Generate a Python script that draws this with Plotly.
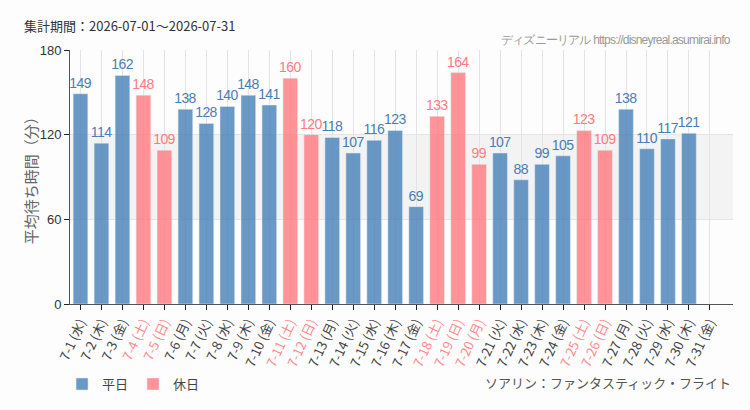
import plotly.graph_objects as go

dates = [f"7-{d}" for d in range(1, 32)]
weekdays = ["水","木","金","土","日","月","火","水","木","金","土","日","月","火","水","木","金",
            "土","日","月","火","水","木","金","土","日","月","火","水","木","金"]
values = [149,114,162,148,109,138,128,140,148,141,160,120,118,107,116,123,69,
          133,164,99,107,88,99,105,123,109,138,110,117,121,None]
holiday = [False,False,False,True,True,False,False,False,False,False,True,True,False,False,False,False,False,
           True,True,True,False,False,False,False,True,True,False,False,False,False,False]

BLUE = "rgba(70,127,184,0.8)"
PINK = "rgba(255,120,125,0.8)"
BLUE_T = "#4a7db3"
PINK_T = "#ff7b80"
COND = "Noto Sans Condensed, Liberation Sans"


def cond(s, ls=-0.6):
    return f'<span style="font-stretch:condensed;letter-spacing:{ls}px">{s}</span>'


wd_vals = [v if not h else None for v, h in zip(values, holiday)]
ho_vals = [v if h else None for v, h in zip(values, holiday)]

ticktext = []
for d, w, h in zip(dates, weekdays, holiday):
    col = "#ff8a8e" if h else "#444444"
    ticktext.append(f'<span style="color:{col}">{d} ({w})</span>')

fig = go.Figure()
fig.add_trace(go.Bar(x=dates, y=wd_vals, name="平日", marker_color=BLUE, width=0.7,
                     text=[cond(v) if v is not None else "" for v in wd_vals],
                     textposition="outside", cliponaxis=False, constraintext="none",
                     textfont=dict(color=BLUE_T, size=14, family=COND)))
fig.add_trace(go.Bar(x=dates, y=ho_vals, name="休日", marker_color=PINK, width=0.7,
                     text=[cond(v) if v is not None else "" for v in ho_vals],
                     textposition="outside", cliponaxis=False, constraintext="none",
                     textfont=dict(color=PINK_T, size=14, family=COND)))

fig.add_shape(type="rect", xref="paper", yref="y", x0=0, x1=1, y0=60, y1=120,
              fillcolor="#f2f3f2", line_width=0, layer="below")

fig.update_layout(
    width=750, height=410,
    margin=dict(l=70, r=17, t=50, b=105),
    paper_bgcolor="#fcfdfc", plot_bgcolor="#fcfdfc",
    barmode="overlay",
    font=dict(family="Noto Sans CJK JP", color="#444444"),
    showlegend=True,
    legend=dict(orientation="h", x=-0.012, y=-0.31, xanchor="left", yanchor="middle",
                font=dict(size=13, color="#444444"), bgcolor="rgba(0,0,0,0)"),
    xaxis=dict(tickmode="array", tickvals=dates, ticktext=ticktext, tickangle=-65,
               automargin=False,
               showgrid=True, gridcolor="#e4e4e4", showline=True, linecolor="#555555",
               ticks="outside", ticklen=5, tickcolor="#222222",
               tickfont=dict(size=13, family="Noto Sans CJK JP"),
               range=[-0.5, 31.1]),
    yaxis=dict(range=[0, 180], tickvals=[0, 60, 120, 180], showgrid=True, gridcolor="#e4e4e4",
               showline=True, linecolor="#555555", ticks="outside", ticklen=5, tickcolor="#222222",
               zeroline=False, automargin=False,
               tickfont=dict(size=13, family="Liberation Sans", color="#333333")),
)

fig.add_annotation(text="平均待ち時間（分）", xref="paper", yref="paper",
                   x=-0.06, y=0.5, xanchor="center", yanchor="middle", textangle=-90,
                   showarrow=False, font=dict(size=15, color="#666666"))
fig.add_annotation(text="集計期間：2026-07-01〜2026-07-31", xref="paper", yref="paper",
                   x=-0.072, y=1.098, xanchor="left", yanchor="middle", showarrow=False,
                   font=dict(size=13, color="#333333"))
fig.add_annotation(text=cond("ディズニーリアル https://disneyreal.asumirai.info", -0.8), xref="paper", yref="paper",
                   x=1.0, y=1.039, xanchor="right", yanchor="middle", showarrow=False,
                   font=dict(size=12, color="#999999", family=COND))
fig.add_annotation(text="ソアリン：ファンタスティック・フライト", xref="paper", yref="paper",
                   x=1.0, y=-0.31, xanchor="right", yanchor="middle", showarrow=False,
                   font=dict(size=13, color="#555555"))

fig.write_html("out.html")
